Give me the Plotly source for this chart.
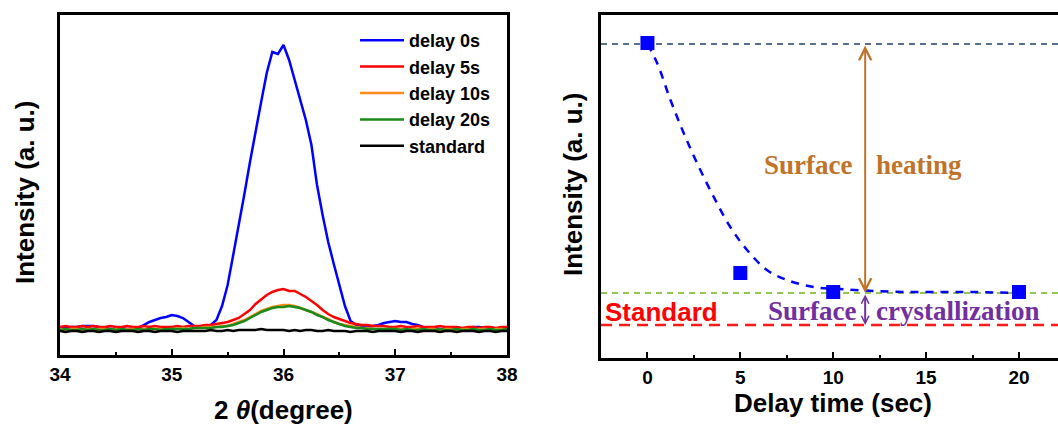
import numpy as np
import plotly.graph_objects as go

# ---------------- XRD spectra (left panel) ----------------
two_theta = np.round(np.arange(34.0, 38.0001, 0.05), 2)

int_delay0 = [3, 2, 3, 3, 4, 4, 4, 3, 2, 1, 1, 2, 1, 2, 2, 5, 8, 10, 12, 13,
              15, 14, 12, 8, 4, 3, 3, 5, 10, 24,
              45, 75, 104, 136, 168, 200, 228, 257, 278, 276,
              285, 270, 250, 232, 210, 185, 145, 115, 88, 66,
              45, 24, 9, 5, 4, 3, 4, 5, 7, 8,
              9, 8, 8, 6, 5, 3, 2, 2, 1, 1, 2, 2, 1, 2, 3, 3, 2, 2, 1, 1, 1]
int_delay5 = [3, 4, 3, 3, 4, 3, 4, 3, 3, 4, 3, 3, 4, 3, 3, 4, 3, 4, 3, 3,
              3, 4, 3, 4, 4, 4, 5, 5, 6, 7,
              8, 10, 12, 16, 20, 26, 31, 35, 38, 40,
              41, 39, 39, 36, 33, 29, 25, 20, 16, 13,
              11, 9, 7, 6, 5, 5, 4, 4, 4, 3,
              3, 4, 3, 3, 4, 3, 3, 3, 4, 3, 3, 3, 2, 3, 3, 2, 3, 3, 2, 3, 3]
int_delay10 = [1, 0, 1, 1, 0, 1, 0, 1, 1, 0, 1, 0, 1, 1, 0, 1, 0, 1, 1, 0,
               1, 1, 2, 1, 2, 2, 3, 3, 3, 4,
               4, 6, 8, 10, 13, 16, 19, 21, 23, 24,
               25, 25, 24, 22, 20, 18, 16, 13, 11, 8,
               6, 5, 4, 3, 2, 2, 1, 1, 1, 1,
               1, 1, 0, 1, 1, 0, 1, 1, 0, 1, 1, 0, 1, 1, 0, 1, 1, 0, 1, 1, 0]
int_delay20 = [0, 1, 0, 0, 1, 0, 1, 0, 0, 1, 0, 1, 0, 0, 1, 0, 1, 1, 0, 1,
               1, 1, 1, 1, 2, 2, 2, 2, 3, 3,
               4, 5, 7, 9, 12, 15, 18, 20, 22, 23,
               23, 24, 23, 22, 20, 18, 15, 13, 10, 8,
               6, 4, 3, 2, 2, 1, 1, 1, 1, 1,
               1, 0, 1, 0, 0, 1, 0, 0, 1, 0, 0, 1, 0, 0, 1, 0, 0, 1, 0, 0, 1]
int_standard = [-1, -2, -1, -1, -2, -1, -1, -2, -1, -1, -2, -1, -1, -1, -2, -1, -1, -2, -1, -1,
                -1, -2, -1, -1, -1, -1, -1, 0, -1, -1,
                0, -1, 0, 0, 0, 0, 1, 0, 0, 0,
                0, -1, 0, -1, 0, 0, -1, -1, 0, -1,
                -1, -1, -2, -1, -1, -1, -2, -1, -1, -1,
                -1, -2, -1, -1, -2, -1, -1, -1, -2, -1, -1, -2, -1, -1, -1, -2, -1, -1, -2, -1, -1]

spectra = [
    ("delay 0s", int_delay0, "#0000ff"),
    ("delay 5s", int_delay5, "#ff0000"),
    ("delay 10s", int_delay10, "#ff8c1a"),
    ("delay 20s", int_delay20, "#1a8a1a"),
    ("standard", int_standard, "#000000"),
]

# ---------------- Peak intensity vs delay (right panel) ----------------
delay_s = [0, 5, 10, 20]
peak_int = [282, 52, 33, 33]

fit_t = [0, 0.52, 1.24, 1.95, 2.67, 3.57, 4.46, 5.36, 6.43, 7.51, 8.94,
         10.38, 12.17, 13.96, 15.75, 17.54, 19.87]
fit_int = [281, 262, 225, 192, 162, 128, 98, 75, 55, 45, 38,
           36, 34, 33, 33, 33, 32]

level_initial = 281
level_crystal = 32
level_standard = 0
arrow_t = 11.72

SANS = "Liberation Sans, Arial, sans-serif"
SERIF = "Liberation Serif, Times New Roman, serif"
BROWN = "#c0732a"
PURPLE = "#7030a0"

fig = go.Figure()

for name, vals, col in spectra:
    fig.add_trace(go.Scatter(x=two_theta, y=vals, mode="lines", name=name,
                             line=dict(color=col, width=2.5),
                             xaxis="x", yaxis="y"))

fig.add_trace(go.Scatter(x=fit_t, y=fit_int, mode="lines", showlegend=False,
                         line=dict(color="#0000ff", width=2.5, dash="8px,7px",
                                   shape="spline"),
                         xaxis="x2", yaxis="y2"))
fig.add_trace(go.Scatter(x=delay_s, y=peak_int, mode="markers", showlegend=False,
                         marker=dict(symbol="square", size=14, color="#0000ff"),
                         xaxis="x2", yaxis="y2"))

W, H = 1058, 427
axis_common = dict(showline=True, linecolor="black", linewidth=2.5,
                   showgrid=False, zeroline=False, automargin=False)

fig.update_layout(
    width=W, height=H, autosize=False,
    margin=dict(l=0, r=0, t=0, b=0, pad=0),
    paper_bgcolor="white", plot_bgcolor="white",
    font=dict(family=SANS, color="black"),
    xaxis=dict(**axis_common, domain=[60 / W, 507 / W], range=[34, 38],
               mirror=True, ticks="inside", ticklen=6, tickwidth=2,
               tickcolor="black", dtick=1, tick0=34,
               tickfont=dict(size=19, weight="bold"),
               minor=dict(ticks="inside", ticklen=3, tickwidth=2, dtick=0.5,
                          tickcolor="black")),
    yaxis=dict(**axis_common, domain=[1 - 355 / H, 1 - 15 / H], range=[-25, 315],
               mirror=True, showticklabels=False, ticks=""),
    xaxis2=dict(**axis_common, domain=[601 / W, 1.0], range=[-2.5, 22.1],
                mirror=True, ticks="inside", ticklen=6, tickwidth=2,
                tickcolor="black", dtick=5, tick0=0,
                tickfont=dict(size=19, weight="bold"),
                minor=dict(ticks="inside", ticklen=3, tickwidth=2, dtick=2.5,
                           tickcolor="black"),
                anchor="y2"),
    yaxis2=dict(**axis_common, domain=[1 - 358 / H, 1 - 15 / H], range=[-33, 310],
                mirror=False, showticklabels=False, ticks="", anchor="x2"),
    legend=dict(x=355 / W, y=1 - 22 / H, xanchor="left", yanchor="top",
                bgcolor="rgba(0,0,0,0)", itemwidth=44,
                font=dict(size=18, weight="bold", family=SANS),
                tracegroupgap=0),
    showlegend=True,
)

# reference levels on the right panel
fig.add_shape(type="line", xref="x2 domain", yref="y2", x0=0, x1=1,
              y0=level_initial, y1=level_initial, layer="below",
              line=dict(color="#5a7090", width=1.8, dash="6px,5px"))
fig.add_shape(type="line", xref="x2 domain", yref="y2", x0=0, x1=1,
              y0=level_crystal, y1=level_crystal, layer="below",
              line=dict(color="#92c84e", width=1.8, dash="6px,5px"))
fig.add_shape(type="line", xref="x2 domain", yref="y2", x0=0, x1=1,
              y0=level_standard, y1=level_standard, layer="below",
              line=dict(color="#ff1a1a", width=2.5, dash="11px,7px"))

# double-headed arrows
fig.add_annotation(x=arrow_t, y=level_crystal, ax=arrow_t, ay=level_initial,
                   xref="x2", yref="y2", axref="x2", ayref="y2", text="",
                   showarrow=True, arrowside="end+start", arrowhead=5,
                   startarrowhead=5, arrowsize=1.2, startarrowsize=1.2,
                   arrowwidth=2, arrowcolor=BROWN, standoff=0, startstandoff=0)
fig.add_annotation(x=arrow_t, y=level_standard, ax=arrow_t, ay=level_crystal,
                   xref="x2", yref="y2", axref="x2", ayref="y2", text="",
                   showarrow=True, arrowside="end+start", arrowhead=5,
                   startarrowhead=5, arrowsize=0.75, startarrowsize=0.75,
                   arrowwidth=2, arrowcolor=PURPLE, standoff=0, startstandoff=0)

serif_brown = dict(family=SERIF, size=27, color=BROWN, weight="bold")
serif_purple = dict(family=SERIF, size=27, color=PURPLE, weight="bold")
fig.add_annotation(x=arrow_t - 0.62, y=160, xref="x2", yref="y2", text="Surface",
                   showarrow=False, xanchor="right", yanchor="middle", font=serif_brown)
fig.add_annotation(x=arrow_t + 0.5, y=160, xref="x2", yref="y2", text="heating",
                   showarrow=False, xanchor="left", yanchor="middle", font=serif_brown)
fig.add_annotation(x=arrow_t - 0.4, y=14, xref="x2", yref="y2", text="Surface",
                   showarrow=False, xanchor="right", yanchor="middle", font=serif_purple)
fig.add_annotation(x=arrow_t + 0.45, y=14, xref="x2", yref="y2", text="crystallization",
                   showarrow=False, xanchor="left", yanchor="middle", font=serif_purple)
fig.add_annotation(x=-2.4, y=13, xref="x2", yref="y2", text="Standard",
                   showarrow=False, xanchor="left", yanchor="middle",
                   font=dict(family=SANS, size=26, color="#ff0000", weight="bold"))

# axis titles
title_font = dict(family=SANS, size=26, color="black", weight="bold")
fig.add_annotation(x=283 / W, y=1 - 410 / H, xref="paper", yref="paper",
                   xanchor="center", yanchor="middle",
                   text="2 <i>θ</i>(degree)", showarrow=False, font=title_font)
fig.add_annotation(x=25 / W, y=1 - 193 / H, xref="paper", yref="paper",
                   xanchor="center", yanchor="middle",
                   text="Intensity (a. u.)", showarrow=False, textangle=-90,
                   font=title_font)
fig.add_annotation(x=573 / W, y=1 - 185 / H, xref="paper", yref="paper",
                   xanchor="center", yanchor="middle",
                   text="Intensity (a. u.)", showarrow=False, textangle=-90,
                   font=title_font)
fig.add_annotation(x=833 / W, y=1 - 403 / H, xref="paper", yref="paper",
                   xanchor="center", yanchor="middle",
                   text="Delay time (sec)", showarrow=False, font=title_font)

fig.write_html("out.html")
